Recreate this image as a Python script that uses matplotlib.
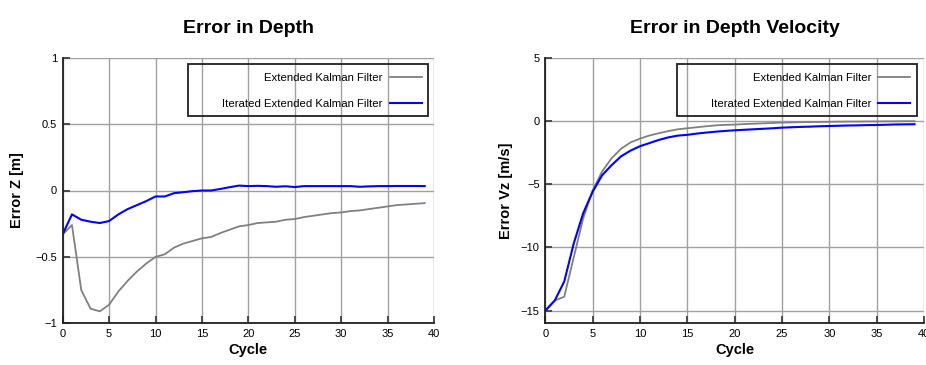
#!/usr/bin/env python3
"""Depth / depth-velocity error of EKF vs iterated EKF over filter cycles."""

import matplotlib

matplotlib.use("Agg")
import matplotlib.pyplot as plt
from matplotlib.patches import Rectangle

plt.rcParams["font.family"] = ["Liberation Sans", "DejaVu Sans"]

CYCLES = list(range(40))

# Error in depth Z [m]
EKF_Z = [
    -0.33, -0.26, -0.75, -0.89, -0.91, -0.86, -0.76, -0.68, -0.61, -0.55,
    -0.50, -0.48, -0.43, -0.40, -0.38, -0.36, -0.35, -0.32, -0.295, -0.27,
    -0.26, -0.245, -0.24, -0.235, -0.22, -0.215, -0.20, -0.19, -0.18, -0.17,
    -0.165, -0.155, -0.15, -0.14, -0.13, -0.12, -0.11, -0.105, -0.10, -0.095,
]
IEKF_Z = [
    -0.33, -0.18, -0.22, -0.235, -0.245, -0.23, -0.18, -0.14, -0.11, -0.08,
    -0.045, -0.045, -0.02, -0.013, -0.005, 0.0, 0.0, 0.012, 0.025, 0.037,
    0.033, 0.035, 0.033, 0.028, 0.032, 0.026, 0.033, 0.033, 0.033, 0.033,
    0.033, 0.033, 0.028, 0.031, 0.033, 0.033, 0.034, 0.034, 0.034, 0.033,
]

# Error in depth velocity Vz [m/s]
EKF_VZ = [
    -15.0, -14.2, -13.9, -10.8, -7.7, -5.5, -4.0, -2.95, -2.2, -1.7,
    -1.4, -1.15, -0.97, -0.8, -0.66, -0.58, -0.5, -0.42, -0.35, -0.31,
    -0.29, -0.25, -0.22, -0.19, -0.16, -0.13, -0.12, -0.1, -0.09, -0.08,
    -0.07, -0.06, -0.05, -0.05, -0.04, -0.04, -0.03, -0.03, -0.02, -0.02,
]
IEKF_VZ = [
    -15.0, -14.2, -12.7, -9.7, -7.3, -5.6, -4.3, -3.5, -2.8, -2.35,
    -2.0, -1.75, -1.5, -1.3, -1.16, -1.1, -1.0, -0.92, -0.85, -0.79,
    -0.74, -0.7, -0.66, -0.62, -0.58, -0.53, -0.5, -0.47, -0.45, -0.42,
    -0.4, -0.38, -0.36, -0.35, -0.33, -0.32, -0.3, -0.28, -0.27, -0.26,
]

LABELS = ["Extended Kalman Filter", "Iterated Extended Kalman Filter"]
COLORS = ["#808080", "#0000ff"]

W, H = 926, 365


def px_axes(x0, x1, y0, y1):
    # pixel box (top-left origin) -> figure fraction rect
    return [x0 / W, 1 - y1 / H, (x1 - x0) / W, (y1 - y0) / H]


def style_axes(ax, xlim, ylim, yticks, ylabel, title, label_x):
    ax.set_xlim(*xlim)
    ax.set_ylim(*ylim)
    ax.set_xticks(range(0, 41, 5))
    ax.set_yticks(yticks)
    ax.grid(True, color="#a0a0a0", linewidth=1.0)
    ax.set_axisbelow(True)
    for side in ("top", "right"):
        ax.spines[side].set_visible(False)
    for side in ("left", "bottom"):
        ax.spines[side].set_linewidth(1.3)
        ax.spines[side].set_color("#202020")
    ax.tick_params(direction="in", length=5, width=1.3, color="#404040",
                   labelsize=8, pad=4)
    ax.set_xlabel("Cycle", fontsize=10.5, fontweight="bold", labelpad=3)
    ax.set_ylabel(ylabel, fontsize=10.5, fontweight="bold")
    ax.yaxis.set_label_coords(label_x, 0.5)
    ax.set_title(title, fontsize=14, fontweight="bold", pad=18)


def add_legend(ax, box):
    x0, x1, y0, y1 = box
    ax.add_patch(Rectangle((x0, y0), x1 - x0, y1 - y0, transform=ax.transAxes,
                           fill=False, edgecolor="#202020", linewidth=1.3,
                           zorder=5, clip_on=False))
    ax.legend(loc="upper right", bbox_to_anchor=(x1 - 0.017, y1 - 0.032),
              frameon=False, markerfirst=False, fontsize=8.2,
              handlelength=2.8, handletextpad=0.65, labelspacing=1.4,
              borderpad=0, borderaxespad=0)


fig = plt.figure(figsize=(W / 100, H / 100), dpi=100)

ax1 = fig.add_axes(px_axes(62.7, 434.0, 57.7, 323.3))
ax1.plot(CYCLES, EKF_Z, color=COLORS[0], linewidth=1.3, label=LABELS[0])
ax1.plot(CYCLES, IEKF_Z, color=COLORS[1], linewidth=1.5, label=LABELS[1])
style_axes(ax1, (0, 40), (-1, 1), [-1, -0.5, 0, 0.5, 1], "Error Z [m]",
           "Error in Depth", -0.104)
ax1.set_yticklabels(["\u22121", "\u22120.5", "0", "0.5", "1"])
add_legend(ax1, (0.3375, 0.984, 0.7805, 0.976))

ax2 = fig.add_axes(px_axes(545.3, 924.0, 57.7, 323.3))
ax2.plot(CYCLES, EKF_VZ, color=COLORS[0], linewidth=1.3, label=LABELS[0])
ax2.plot(CYCLES, IEKF_VZ, color=COLORS[1], linewidth=1.5, label=LABELS[1])
style_axes(ax2, (0, 40), (-16, 5), [-15, -10, -5, 0, 5], "Error Vz [m/s]",
           "Error in Depth Velocity", -0.084)
add_legend(ax2, (0.347, 0.981, 0.7805, 0.976))

fig.savefig("out.png", dpi=100)
